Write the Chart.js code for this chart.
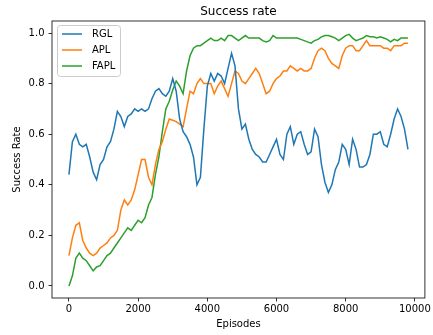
<!DOCTYPE html>
<html>
<head>
<meta charset="utf-8">
<script src="https://cdn.jsdelivr.net/npm/chart.js@4/dist/chart.umd.min.js"></script>
<style>
  html, body { margin: 0; padding: 0; background: #fff; }
  #wrap { width: 433px; height: 335px; }
</style>
</head>
<body>
<div id="wrap"><canvas id="success" width="433" height="335"></canvas></div>
<script>
const episodes = [
  0, 100, 200, 300, 400, 500, 600, 700, 800, 900,
  1000, 1100, 1200, 1300, 1400, 1500, 1600, 1700, 1800, 1900,
  2000, 2100, 2200, 2300, 2400, 2500, 2600, 2700, 2800, 2900,
  3000, 3100, 3200, 3300, 3400, 3500, 3600, 3700, 3800, 3900,
  4000, 4100, 4200, 4300, 4400, 4500, 4600, 4700, 4800, 4900,
  5000, 5100, 5200, 5300, 5400, 5500, 5600, 5700, 5800, 5900,
  6000, 6100, 6200, 6300, 6400, 6500, 6600, 6700, 6800, 6900,
  7000, 7100, 7200, 7300, 7400, 7500, 7600, 7700, 7800, 7900,
  8000, 8100, 8200, 8300, 8400, 8500, 8600, 8700, 8800, 8900,
  9000, 9100, 9200, 9300, 9400, 9500, 9600, 9700, 9800,
];

const rgl = [
  0.44, 0.57, 0.60, 0.56, 0.55, 0.56, 0.51, 0.45, 0.42, 0.48,
  0.50, 0.55, 0.57, 0.62, 0.69, 0.67, 0.63, 0.67, 0.68, 0.70,
  0.69, 0.70, 0.69, 0.70, 0.74, 0.77, 0.78, 0.76, 0.75, 0.77,
  0.82, 0.77, 0.66, 0.61, 0.59, 0.56, 0.51, 0.40, 0.43, 0.62,
  0.79, 0.84, 0.81, 0.84, 0.83, 0.80, 0.86, 0.92, 0.87, 0.70,
  0.62, 0.64, 0.58, 0.54, 0.52, 0.51, 0.49, 0.49, 0.52, 0.55,
  0.58, 0.52, 0.50, 0.60, 0.63, 0.56, 0.60, 0.61, 0.56, 0.52,
  0.53, 0.62, 0.59, 0.48, 0.41, 0.37, 0.40, 0.46, 0.49, 0.56,
  0.54, 0.48, 0.58, 0.54, 0.47, 0.47, 0.48, 0.52, 0.60, 0.60,
  0.61, 0.56, 0.55, 0.60, 0.66, 0.70, 0.67, 0.62, 0.54,
];

const apl = [
  0.12, 0.19, 0.24, 0.25, 0.18, 0.15, 0.13, 0.12, 0.13, 0.15,
  0.16, 0.17, 0.19, 0.20, 0.22, 0.30, 0.34, 0.32, 0.34, 0.38,
  0.44, 0.50, 0.50, 0.43, 0.40, 0.48, 0.54, 0.57, 0.62, 0.66,
  0.655, 0.65, 0.64, 0.63, 0.70, 0.77, 0.76, 0.80, 0.82, 0.80,
  0.80, 0.80, 0.76, 0.79, 0.81, 0.78, 0.75, 0.80, 0.85, 0.84,
  0.81, 0.80, 0.82, 0.84, 0.86, 0.84, 0.80, 0.76, 0.77, 0.80,
  0.82, 0.83, 0.85, 0.85, 0.87, 0.86, 0.85, 0.86, 0.85, 0.85,
  0.86, 0.90, 0.93, 0.94, 0.93, 0.90, 0.88, 0.87, 0.86, 0.91,
  0.94, 0.95, 0.95, 0.93, 0.93, 0.95, 0.97, 0.95, 0.95, 0.95,
  0.95, 0.94, 0.94, 0.93, 0.95, 0.95, 0.95, 0.96, 0.96,
];

const fapl = [
  0.00, 0.04, 0.11, 0.13, 0.11, 0.10, 0.08, 0.06, 0.075, 0.08,
  0.10, 0.12, 0.13, 0.15, 0.17, 0.19, 0.21, 0.23, 0.22, 0.24,
  0.26, 0.25, 0.27, 0.32, 0.35, 0.44, 0.51, 0.61, 0.70, 0.73,
  0.775, 0.81, 0.79, 0.76, 0.85, 0.91, 0.94, 0.95, 0.95, 0.96,
  0.97, 0.98, 0.97, 0.97, 0.98, 0.97, 0.99, 0.99, 0.98, 0.97,
  0.98, 0.99, 0.98, 0.98, 0.98, 0.98, 0.97, 0.965, 0.97, 0.99,
  0.98, 0.98, 0.98, 0.98, 0.98, 0.98, 0.98, 0.975, 0.97, 0.965,
  0.96, 0.97, 0.975, 0.985, 0.99, 0.99, 0.985, 0.98, 0.97, 0.98,
  0.99, 0.995, 0.98, 0.97, 0.975, 0.98, 0.99, 0.985, 0.985, 0.98,
  0.985, 0.98, 0.975, 0.965, 0.975, 0.97, 0.98, 0.98, 0.98,
];

const xTicks = [0, 2000, 4000, 6000, 8000, 10000];
const yTicks = [0.0, 0.2, 0.4, 0.6, 0.8, 1.0];

const FONT = "'DejaVu Sans', sans-serif";

const toPoints = (values) => values.map((v, i) => ({ x: episodes[i], y: v }));

// matplotlib-like frame, title and legend box
const decorations = {
  id: "decorations",
  afterDatasetsDraw(chart) {
    const { ctx, chartArea: a } = chart;
    ctx.save();
    ctx.strokeStyle = "#000";
    ctx.lineWidth = 0.8;
    ctx.strokeRect(a.left, a.top, a.right - a.left, a.bottom - a.top);

    ctx.fillStyle = "#000";
    ctx.font = `12px ${FONT}`;
    ctx.textAlign = "center";
    ctx.textBaseline = "alphabetic";
    ctx.fillText("Success rate", (a.left + a.right) / 2, 15);

    // legend
    const lx = a.left + 5, ly = a.top + 4, lw = 63, lh = 51;
    ctx.beginPath();
    ctx.roundRect(lx + 0.5, ly + 0.5, lw, lh, 3);
    ctx.fillStyle = "rgba(255,255,255,0.8)";
    ctx.fill();
    ctx.strokeStyle = "#cccccc";
    ctx.lineWidth = 1;
    ctx.stroke();
    ctx.font = `10px ${FONT}`;
    ctx.textAlign = "left";
    ctx.textBaseline = "middle";
    chart.data.datasets.forEach((ds, i) => {
      const y = ly + 9 + i * 16;
      ctx.strokeStyle = ds.borderColor;
      ctx.lineWidth = 1.5;
      ctx.beginPath();
      ctx.moveTo(lx + 5, y);
      ctx.lineTo(lx + 25, y);
      ctx.stroke();
      ctx.fillStyle = "#000";
      ctx.fillText(ds.label, lx + 35, y);
    });
    ctx.restore();
  },
};

new Chart(document.getElementById("success"), {
  type: "line",
  data: {
    datasets: [
      { label: "RGL", data: toPoints(rgl), borderColor: "#1f77b4" },
      { label: "APL", data: toPoints(apl), borderColor: "#ff7f0e" },
      { label: "FAPL", data: toPoints(fapl), borderColor: "#2ca02c" },
    ],
  },
  options: {
    responsive: false,
    animation: false,
    events: [],
    layout: { padding: { top: 21, right: 8, left: 0, bottom: 0 } },
    elements: {
      line: { borderWidth: 1.5, tension: 0 },
      point: { radius: 0 },
    },
    plugins: {
      legend: { display: false },
      title: { display: false },
      tooltip: { enabled: false },
    },
    scales: {
      x: {
        type: "linear",
        min: -490,
        max: 10290,
        afterBuildTicks: (scale) => {
          scale.ticks = xTicks.map((v) => ({ value: v }));
        },
        afterFit: (scale) => {
          scale.height = 37;
        },
        ticks: {
          color: "#000",
          padding: 2,
          maxRotation: 0,
          font: { family: FONT, size: 10 },
          callback: (v) => String(v),
        },
        grid: {
          drawOnChartArea: false,
          drawTicks: true,
          tickLength: 3.5,
          color: "#000",
          lineWidth: 0.8,
        },
        border: { display: false },
        title: {
          display: true,
          text: "Episodes",
          color: "#000",
          font: { family: FONT, size: 10 },
          padding: { top: 0, bottom: 5 },
        },
      },
      y: {
        type: "linear",
        min: -0.0475,
        max: 1.0475,
        afterBuildTicks: (scale) => {
          scale.ticks = yTicks.map((v) => ({ value: v }));
        },
        afterFit: (scale) => {
          scale.width = 52;
        },
        ticks: {
          color: "#000",
          padding: 4,
          font: { family: FONT, size: 10 },
          callback: (v) => v.toFixed(1),
        },
        grid: {
          drawOnChartArea: false,
          drawTicks: true,
          tickLength: 3.5,
          color: "#000",
          lineWidth: 0.8,
        },
        border: { display: false },
        title: {
          display: true,
          text: "Success Rate",
          color: "#000",
          font: { family: FONT, size: 10 },
          padding: { top: 11, bottom: 0 },
        },
      },
    },
  },
  plugins: [decorations],
});
</script>
</body>
</html>
